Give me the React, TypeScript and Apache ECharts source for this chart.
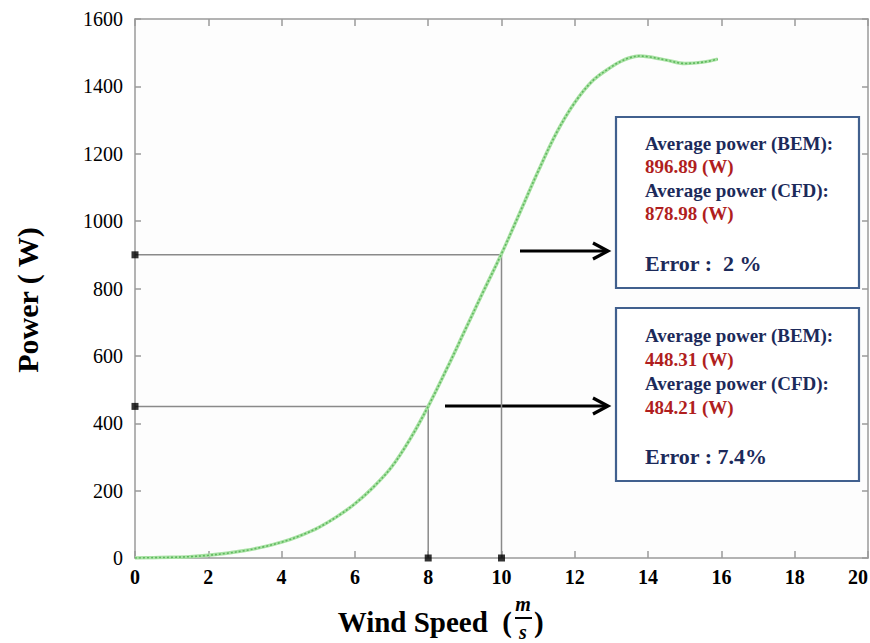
import React, { useEffect, useRef } from "react";
import * as echarts from "echarts";

const windSpeed = [0, 0.5, 1, 1.5, 2, 2.5, 3, 3.5, 4, 4.5, 5, 5.5, 6, 6.5, 7, 7.5, 8, 8.5, 9, 9.5, 10, 10.5, 11, 11.5, 12, 12.5, 13, 13.25, 13.5, 13.75, 14, 14.5, 15, 15.5, 15.9];
const power = [0, 1, 2, 4, 8, 14, 22, 33, 47, 66, 90, 122, 161, 210, 270, 352, 450, 560, 675, 790, 903, 1025, 1148, 1262, 1352, 1418, 1458, 1474, 1485, 1490, 1488, 1478, 1468, 1472, 1481];

const xTicks = { min: 0, max: 20, interval: 2 };
const yTicks = { min: 0, max: 1600, interval: 200 };

const guideHigh = [[0, 900], [10, 900], [10, 0]];
const guideLow = [[0, 450], [8, 450], [8, 0]];
const guideMarkers = [[0, 900], [0, 450], [8, 0], [10, 0]];

const box1 = { bem: "896.89 (W)", cfd: "878.98 (W)", err: "Error :  2 %" };
const box2 = { bem: "448.31 (W)", cfd: "484.21 (W)", err: "Error : 7.4%" };

const SERIF = "Liberation Serif";
const NAVY = "#1c2a5a";
const RED = "#b01e1e";
const AXIS = "#9a9a9a";

function boxGraphics(top: number, height: number, b: { bem: string; cfd: string; err: string }, ys: number[]) {
  const left = 616;
  const width = 243;
  const tx = 645;
  const t = (text: string, y: number, color: string, size: number) => ({
    type: "text",
    style: { text, x: tx, y, fill: color, fontFamily: SERIF, fontWeight: "bold", fontSize: size, verticalAlign: "middle" },
  });
  return [
    { type: "rect", shape: { x: left, y: top, width, height }, style: { fill: "#ffffff", stroke: "#41608e", lineWidth: 2.2 } },
    t("Average power (BEM):", ys[0], NAVY, 19),
    t(b.bem, ys[1], RED, 19),
    t("Average power (CFD):", ys[2], NAVY, 19),
    t(b.cfd, ys[3], RED, 19),
    t(b.err, ys[4], NAVY, 22),
  ];
}

function arrow(x1: number, x2: number, y: number) {
  return [
    { type: "line", shape: { x1, y1: y, x2: x2 - 2, y2: y }, style: { stroke: "#000", lineWidth: 3.2 } },
    {
      type: "polyline",
      shape: { points: [[x2 - 15, y - 8], [x2, y], [x2 - 15, y + 8]] },
      style: { stroke: "#000", lineWidth: 3.2, fill: "none" },
    },
  ];
}

export default function App() {
  const ref = useRef<HTMLDivElement>(null);
  useEffect(() => {
    if (!ref.current) return;
    const chart = echarts.init(ref.current, undefined, { renderer: "svg" });
    const curve = windSpeed.map((x, i) => [x, power[i]]);
    const guideStyle = { color: "#8a8a8a", width: 1.5 };
    const plain = (v: number) => String(v);
    chart.setOption({
      animation: false,
      backgroundColor: "#ffffff",
      grid: {
        left: 135, right: 2, top: 19, bottom: 85,
        containLabel: false, outerBoundsMode: "none",
        show: true, backgroundColor: "#fdfdfd", borderWidth: 0,
      },
      xAxis: [
        {
          type: "value",
          position: "bottom",
          ...xTicks,
          axisLine: { show: true, lineStyle: { color: AXIS, width: 1.5 } },
          axisTick: { show: true, inside: true, length: 7, lineStyle: { color: AXIS, width: 1.5 } },
          axisLabel: {
            color: "#000", fontFamily: SERIF, fontWeight: "bold", fontSize: 20, margin: 9,
            formatter: plain, hideOverlap: false, alignMaxLabel: "right",
          },
          splitLine: { show: false },
        },
        {
          type: "value",
          position: "top",
          ...xTicks,
          axisLine: { show: true, onZero: false, lineStyle: { color: AXIS, width: 1.5 } },
          axisTick: { show: true, inside: true, length: 7, lineStyle: { color: AXIS, width: 1.5 } },
          axisLabel: { show: false },
          splitLine: { show: false },
        },
      ],
      yAxis: [
        {
          type: "value",
          position: "left",
          ...yTicks,
          axisLine: { show: true, lineStyle: { color: AXIS, width: 1.5 } },
          axisTick: { show: true, inside: true, length: 6, lineStyle: { color: AXIS, width: 1.5 } },
          axisLabel: { color: "#000", fontFamily: SERIF, fontSize: 20, margin: 12, formatter: plain },
          splitLine: { show: false },
        },
        {
          type: "value",
          position: "right",
          ...yTicks,
          axisLine: { show: true, onZero: false, lineStyle: { color: AXIS, width: 1.5 } },
          axisTick: { show: true, inside: true, length: 6, lineStyle: { color: AXIS, width: 1.5 } },
          axisLabel: { show: false },
          splitLine: { show: false },
        },
      ],
      series: [
        { type: "line", data: guideHigh, symbol: "none", lineStyle: guideStyle, z: 2 },
        { type: "line", data: guideLow, symbol: "none", lineStyle: guideStyle, z: 2 },
        { type: "line", data: curve, smooth: 0.35, symbol: "none", lineStyle: { color: "#a9e2a4", width: 3.5 }, z: 3 },
        { type: "line", data: curve, smooth: 0.35, symbol: "none", lineStyle: { color: "#5fb85f", width: 1.6, type: [2, 2] }, z: 4 },
        { type: "scatter", data: guideMarkers, symbol: "rect", symbolSize: 7, itemStyle: { color: "#000" }, clip: false, z: 5 },
      ],
      graphic: [
        ...arrow(520, 608, 251),
        ...arrow(445, 608, 406),
        ...boxGraphics(117, 171, box1, [143, 166, 190, 213, 263]),
        ...boxGraphics(308, 173, box2, [335, 359, 383, 407, 456]),
        {
          type: "text",
          rotation: Math.PI / 2,
          x: 27,
          y: 300,
          style: { text: "Power ( W)", fill: "#000", fontFamily: SERIF, fontWeight: "bold", fontSize: 30, align: "center", verticalAlign: "middle" },
        },
        {
          type: "text",
          style: { text: "Wind Speed  (", x: 512, y: 622, fill: "#000", fontFamily: SERIF, fontWeight: "bold", fontSize: 29, align: "right", verticalAlign: "middle" },
        },
        {
          type: "text",
          style: { text: "m", x: 523, y: 604, fill: "#000", fontFamily: SERIF, fontStyle: "italic", fontWeight: "bold", fontSize: 20, align: "center", verticalAlign: "middle" },
        },
        { type: "line", shape: { x1: 515, y1: 618, x2: 532, y2: 618 }, style: { stroke: "#000", lineWidth: 2 } },
        {
          type: "text",
          style: { text: "s", x: 523, y: 632, fill: "#000", fontFamily: SERIF, fontStyle: "italic", fontWeight: "bold", fontSize: 20, align: "center", verticalAlign: "middle" },
        },
        {
          type: "text",
          style: { text: ")", x: 534, y: 622, fill: "#000", fontFamily: SERIF, fontWeight: "bold", fontSize: 29, align: "left", verticalAlign: "middle" },
        },
      ],
    });
    return () => chart.dispose();
  }, []);
  return <div ref={ref} style={{ width: 870, height: 643, position: "absolute", left: 0, top: 0 }} />;
}
